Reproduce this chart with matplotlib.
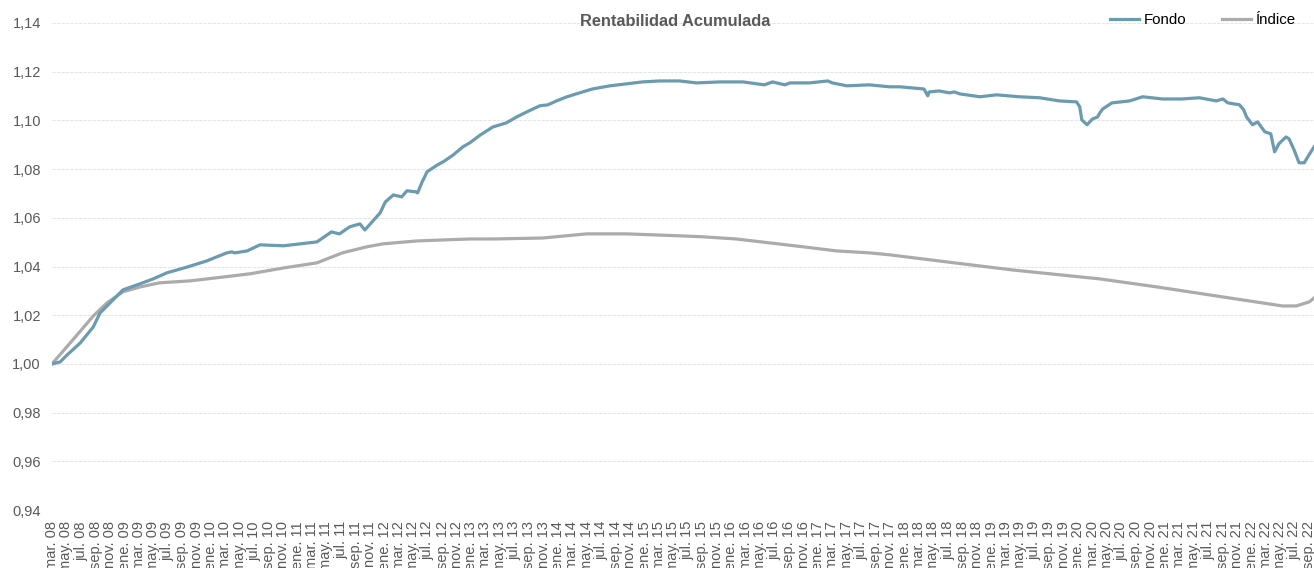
import numpy as np
import pandas as pd
import matplotlib
matplotlib.use('Agg')
import matplotlib.pyplot as plt
from matplotlib.ticker import FuncFormatter

plt.rcParams['font.family'] = ['Liberation Sans', 'DejaVu Sans']

################################################################################
# values

fondo_dates = [
  '2008-03-01', '2008-04-04', '2008-05-04', '2008-06-28', '2008-08-22', '2008-09-19',
  '2008-11-01', '2008-12-25', '2009-03-07', '2009-05-01', '2009-06-28', '2009-09-22',
  '2009-12-13', '2010-03-07', '2010-03-28', '2010-04-10', '2010-06-01', '2010-07-25',
  '2010-11-01', '2011-01-10', '2011-03-22', '2011-05-22', '2011-06-25', '2011-08-07',
  '2011-09-19', '2011-10-10', '2011-12-13', '2012-01-04', '2012-02-07', '2012-03-13',
  '2012-04-04', '2012-05-16', '2012-05-19', '2012-06-07', '2012-06-28', '2012-08-10',
  '2012-09-04', '2012-10-16', '2012-11-25', '2012-12-25', '2013-02-07', '2013-04-01',
  '2013-05-28', '2013-07-10', '2013-08-22', '2013-10-16', '2013-11-19', '2013-12-25',
  '2014-02-07', '2014-04-01', '2014-05-25', '2014-08-07', '2014-10-16', '2014-12-22',
  '2015-03-04', '2015-05-28', '2015-08-07', '2015-11-13', '2016-02-19', '2016-05-19',
  '2016-06-22', '2016-08-13', '2016-09-04', '2016-11-25', '2017-02-10', '2017-03-01',
  '2017-05-01', '2017-08-04', '2017-10-28', '2017-12-10', '2018-03-22', '2018-04-07',
  '2018-04-13', '2018-05-25', '2018-07-07', '2018-07-28', '2018-08-19', '2018-11-13',
  '2019-01-22', '2019-04-28', '2019-07-22', '2019-10-13', '2019-12-25', '2020-01-07',
  '2020-01-16', '2020-02-07', '2020-03-01', '2020-03-22', '2020-04-01', '2020-04-13',
  '2020-05-22', '2020-08-04', '2020-09-28', '2020-12-22', '2021-03-13', '2021-05-25',
  '2021-08-04', '2021-09-01', '2021-09-22', '2021-11-10', '2021-11-28', '2021-12-10',
  '2022-01-04', '2022-01-25', '2022-02-25', '2022-03-22', '2022-04-07', '2022-04-25',
  '2022-05-25', '2022-06-07', '2022-06-28', '2022-07-19', '2022-08-10', '2022-08-22',
  '2022-09-20',
]
fondo = [
  1.0000, 1.0008, 1.0037, 1.0086, 1.0152, 1.0209,
  1.0251, 1.0304, 1.0329, 1.0349, 1.0374, 1.0398,
  1.0423, 1.0456, 1.0460, 1.0456, 1.0464, 1.0489,
  1.0485, 1.0493, 1.0501, 1.0542, 1.0534, 1.0563,
  1.0575, 1.0550, 1.0620, 1.0665, 1.0694, 1.0686,
  1.0711, 1.0706, 1.0702, 1.0747, 1.0789, 1.0817,
  1.0830, 1.0858, 1.0891, 1.0908, 1.0940, 1.0973,
  1.0990, 1.1014, 1.1035, 1.1060, 1.1064, 1.1080,
  1.1097, 1.1113, 1.1129, 1.1142, 1.1150, 1.1158,
  1.1162, 1.1162, 1.1154, 1.1158, 1.1158, 1.1146,
  1.1158, 1.1146, 1.1154, 1.1154, 1.1162, 1.1154,
  1.1142, 1.1146, 1.1138, 1.1138, 1.1129, 1.1101,
  1.1117, 1.1121, 1.1113, 1.1117, 1.1109, 1.1097,
  1.1105, 1.1097, 1.1093, 1.1080, 1.1076, 1.1056,
  1.1002, 1.0982, 1.1006, 1.1014, 1.1031, 1.1047,
  1.1072, 1.1080, 1.1097, 1.1088, 1.1088, 1.1093,
  1.1080, 1.1088, 1.1072, 1.1064, 1.1043, 1.1014,
  1.0982, 1.0994, 1.0953, 1.0945, 1.0871, 1.0904,
  1.0932, 1.0924, 1.0879, 1.0826, 1.0826, 1.0846,
  1.0891,
]

indice_dates = [
  '2008-03-01', '2008-05-28', '2008-08-22', '2008-10-19', '2008-12-25', '2009-03-07',
  '2009-05-28', '2009-10-04', '2010-02-22', '2010-06-13', '2010-11-01', '2011-03-22',
  '2011-07-07', '2011-10-19', '2011-12-25', '2012-05-16', '2012-12-25', '2013-04-01',
  '2013-10-28', '2014-05-01', '2014-10-16', '2015-05-28', '2015-09-01', '2016-01-22',
  '2016-06-10', '2016-10-28', '2017-03-19', '2017-08-04', '2017-10-28', '2018-06-25',
  '2019-03-28', '2020-04-01', '2020-11-28', '2021-09-01', '2022-05-10', '2022-07-07',
  '2022-09-01', '2022-09-20',
]
indice = [
  1.0000, 1.0099, 1.0197, 1.0251, 1.0296, 1.0316,
  1.0333, 1.0341, 1.0357, 1.0370, 1.0394, 1.0415,
  1.0456, 1.0481, 1.0493, 1.0505, 1.0513, 1.0513,
  1.0517, 1.0534, 1.0534, 1.0526, 1.0522, 1.0513,
  1.0497, 1.0481, 1.0464, 1.0456, 1.0448, 1.0419,
  1.0386, 1.0349, 1.0316, 1.0275, 1.0238, 1.0238,
  1.0255, 1.0271,
]

meses = ['ene', 'feb', 'mar', 'abr', 'may', 'jun',
         'jul', 'ago', 'sep', 'oct', 'nov', 'dic']

title = 'Rentabilidad Acumulada'

################################################################################

c_fondo = '#6b9bb0'
c_indice = '#ababab'
c_text = '#595959'

t_fondo = pd.to_datetime(fondo_dates)
t_indice = pd.to_datetime(indice_dates)

fig = plt.figure(figsize=(13.14, 5.68), dpi=100)
ax = fig.add_axes([52/1314, 1-510/568, 1-52/1314, (510-23)/568])

ax.plot(t_fondo, fondo, c=c_fondo, lw=2.3, label='Fondo', zorder=3)
ax.plot(t_indice, indice, c=c_indice, lw=2.3, label='Índice', zorder=2)

ax.set_xlim(t_fondo[0], t_fondo[-1])
ax.set_ylim(0.94, 1.14)
ax.set_yticks(np.arange(0.94, 1.1401, 0.02))
ax.yaxis.set_major_formatter(FuncFormatter(lambda v, _: f'{v:.2f}'.replace('.', ',')))

ticks = pd.date_range('2008-03-01', '2022-09-01', freq='2MS')
ax.set_xticks(ticks)
ax.set_xticklabels([f'{meses[d.month-1]}. {d.year % 100:02d}' for d in ticks],
                   rotation=90, ha='center', va='top')

ax.grid(axis='y', color='#e6e6e6', lw=0.8, ls=(0, (3, 1)))
ax.set_axisbelow(True)
for s in ax.spines.values():
  s.set_visible(False)
ax.tick_params(axis='both', length=0, colors=c_text, labelsize=10.5)
ax.tick_params(axis='y', pad=8)
ax.tick_params(axis='x', pad=8)

fig.text(675/1314, 1-21/568, title, ha='center', va='center',
         fontsize=11.8, fontweight='bold', color=c_text)

fig.legend(loc='center right', bbox_to_anchor=(1-9/1314, 1-20/568), ncol=2,
           frameon=False, fontsize=10.8, handlelength=1.95, handletextpad=0.3,
           columnspacing=2.4, borderaxespad=0.2, labelcolor='black')

fig.savefig('out.png', dpi=100)
